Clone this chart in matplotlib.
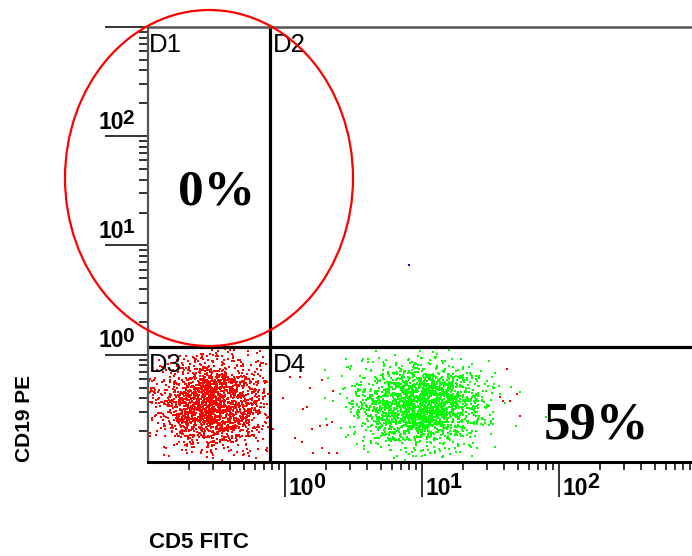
import matplotlib
matplotlib.use("Agg")
import matplotlib.pyplot as plt
import matplotlib.transforms as mtransforms
from matplotlib.patches import Ellipse
from matplotlib.ticker import LogLocator, NullFormatter, FixedLocator
import numpy as np

# axis ranges (log scales) and gate positions
x_range = [0.1, 935.0]
y_range = [0.104, 1000.0]
gate_x = 0.777
gate_y = 1.18

gate_names = ["D1", "D2", "D3", "D4"]
pct_labels = ["0%", "59%"]
x_tick_vals = [1, 10, 100]
x_tick_exps = ["0", "1", "2"]
y_tick_vals = [1, 10, 100]
y_tick_exps = ["0", "1", "2"]

# event clouds: (log10 centre x, log10 centre y, sd x, sd y, count)
red_cloud = [-0.52, -0.45, 0.21, 0.21, 2000]
green_cloud = [0.99, -0.46, 0.225, 0.19, 2200]

red_stray_x = [1.09, 1.28, 1.52, 1.86, 2.24, 1.35, 1.45, 0.97, 1.57, 1.80, 2.03, 2.20,
               1.18, 1.33, 1.86, 2.40, 0.82, 41.7, 49.3, 43.9, 39.0, 51.9, 37.1, 1.60, 2.09]
red_stray_y = [0.62, 0.62, 0.50, 0.58, 0.46, 0.32, 0.335, 0.40, 0.21, 0.22, 0.225, 0.244,
               0.171, 0.160, 0.139, 0.125, 0.21, 0.745, 0.44, 0.38, 0.38, 0.277, 0.41, 0.127, 0.125]
blue_x = [8.03]
blue_y = [6.6]

rng = np.random.default_rng(7)


def cloud(params):
    cx, cy, sx, sy, n = params
    lx = rng.normal(cx, sx, int(n))
    ly = rng.normal(cy, sy, int(n))
    return 10 ** lx, 10 ** ly


fig = plt.figure(figsize=(6.92, 5.56), dpi=100)
ax = fig.add_axes([148 / 692, 1 - 462 / 556, 544 / 692, 435 / 556])
ax.set_xscale("log")
ax.set_yscale("log")
ax.set_xlim(x_range)
ax.set_ylim(y_range)

rx, ry = cloud(red_cloud)
keep = (rx < gate_x * 0.97) & (ry < gate_y * 0.96)
gx, gy = cloud(green_cloud)
keep_g = (gx > gate_x * 2.5) & (gy < gate_y * 0.95)

mk = dict(marker="s", ms=1.7, mew=0, linestyle="none")
ax.plot(rx[keep], ry[keep], color="#ff0000", **mk)
ax.plot(gx[keep_g], gy[keep_g], color="#00ff00", **mk)
ax.plot(red_stray_x, red_stray_y, color="#ff0000", **mk)
ax.plot(blue_x, blue_y, color="#0000ff", marker="s", ms=1.6, mew=0, linestyle="none")

# gates
ax.axvline(gate_x, color="black", lw=2.3)
ax.axhline(gate_y, color="black", lw=2.3)

ax.spines["right"].set_visible(False)
ax.spines["left"].set_color("#555555")
ax.spines["left"].set_linewidth(1.6)
ax.spines["top"].set_color("#555555")
ax.spines["top"].set_linewidth(1.8)
ax.spines["bottom"].set_color("black")
ax.spines["bottom"].set_linewidth(2.2)

ax.xaxis.set_major_locator(FixedLocator(x_tick_vals))
ax.xaxis.set_minor_locator(LogLocator(base=10, subs=np.arange(2, 10), numticks=20))
ax.yaxis.set_major_locator(FixedLocator(y_tick_vals + [1000]))
ax.yaxis.set_minor_locator(LogLocator(base=10, subs=np.arange(2, 10), numticks=20))
for a in (ax.xaxis, ax.yaxis):
    a.set_major_formatter(NullFormatter())
    a.set_minor_formatter(NullFormatter())
ax.tick_params(axis="y", which="major", length=31, width=1.4, color="#333333", direction="out")
ax.tick_params(axis="y", which="minor", length=6.5, width=1.4, color="#333333", direction="out")
ax.tick_params(axis="x", which="major", length=25, width=1.4, color="#333333", direction="out")
ax.tick_params(axis="x", which="minor", length=6, width=1.4, color="#333333", direction="out")

tick_font = dict(family="Liberation Sans", fontweight="bold", color="black",
                 ha="left", va="baseline", annotation_clip=False)
trans_x = mtransforms.blended_transform_factory(ax.transData, ax.transAxes)
trans_y = mtransforms.blended_transform_factory(ax.transAxes, ax.transData)
for v, e in zip(x_tick_vals, x_tick_exps):
    ax.annotate("10", xy=(v, 0), xycoords=trans_x, xytext=(2.2, -23.8),
                textcoords="offset points", fontsize=16.5, **tick_font)
    ax.annotate(e, xy=(v, 0), xycoords=trans_x, xytext=(20.0, -18.7),
                textcoords="offset points", fontsize=15.5, **tick_font)
for v, e in zip(y_tick_vals, y_tick_exps):
    ax.annotate("10", xy=(0, v), xycoords=trans_y, xytext=(-36, 5.4),
                textcoords="offset points", fontsize=16.5, **tick_font)
    ax.annotate(e, xy=(0, v), xycoords=trans_y, xytext=(-18.6, 9),
                textcoords="offset points", fontsize=15, **tick_font)

# gate names
corners = [(x_range[0], y_range[1], 0.7), (gate_x, y_range[1], 2.2),
           (x_range[0], gate_y, 0.7), (gate_x, gate_y, 2.2)]
for name, (cx, cy, dx) in zip(gate_names, corners):
    ax.annotate(name, xy=(cx, cy), xytext=(dx, -18), textcoords="offset points",
                family="Liberation Sans", fontsize=18.5, ha="left", va="baseline")

ax.text(0.318, 23.9, pct_labels[0], family="Liberation Serif", fontweight="bold",
        fontsize=37, ha="center", va="baseline")
ax.text(189, 0.171, pct_labels[1], family="Liberation Serif", fontweight="bold",
        fontsize=38, ha="center", va="baseline")

fig.text(25 / 692, 1 - 418 / 556, "CD19 PE", rotation=90, family="Liberation Sans",
         fontweight="bold", fontsize=15, ha="center", va="center")
fig.text(149 / 692, 1 - 548 / 556, "CD5 FITC", family="Liberation Sans",
         fontweight="bold", fontsize=16, ha="left", va="baseline")

ring = Ellipse((209 / 692, 1 - 178 / 556), 288 / 692, 336 / 556, transform=fig.transFigure,
               fill=False, edgecolor="#ff0000", lw=1.6, zorder=5)
fig.add_artist(ring)

fig.savefig("out.png", dpi=100)
